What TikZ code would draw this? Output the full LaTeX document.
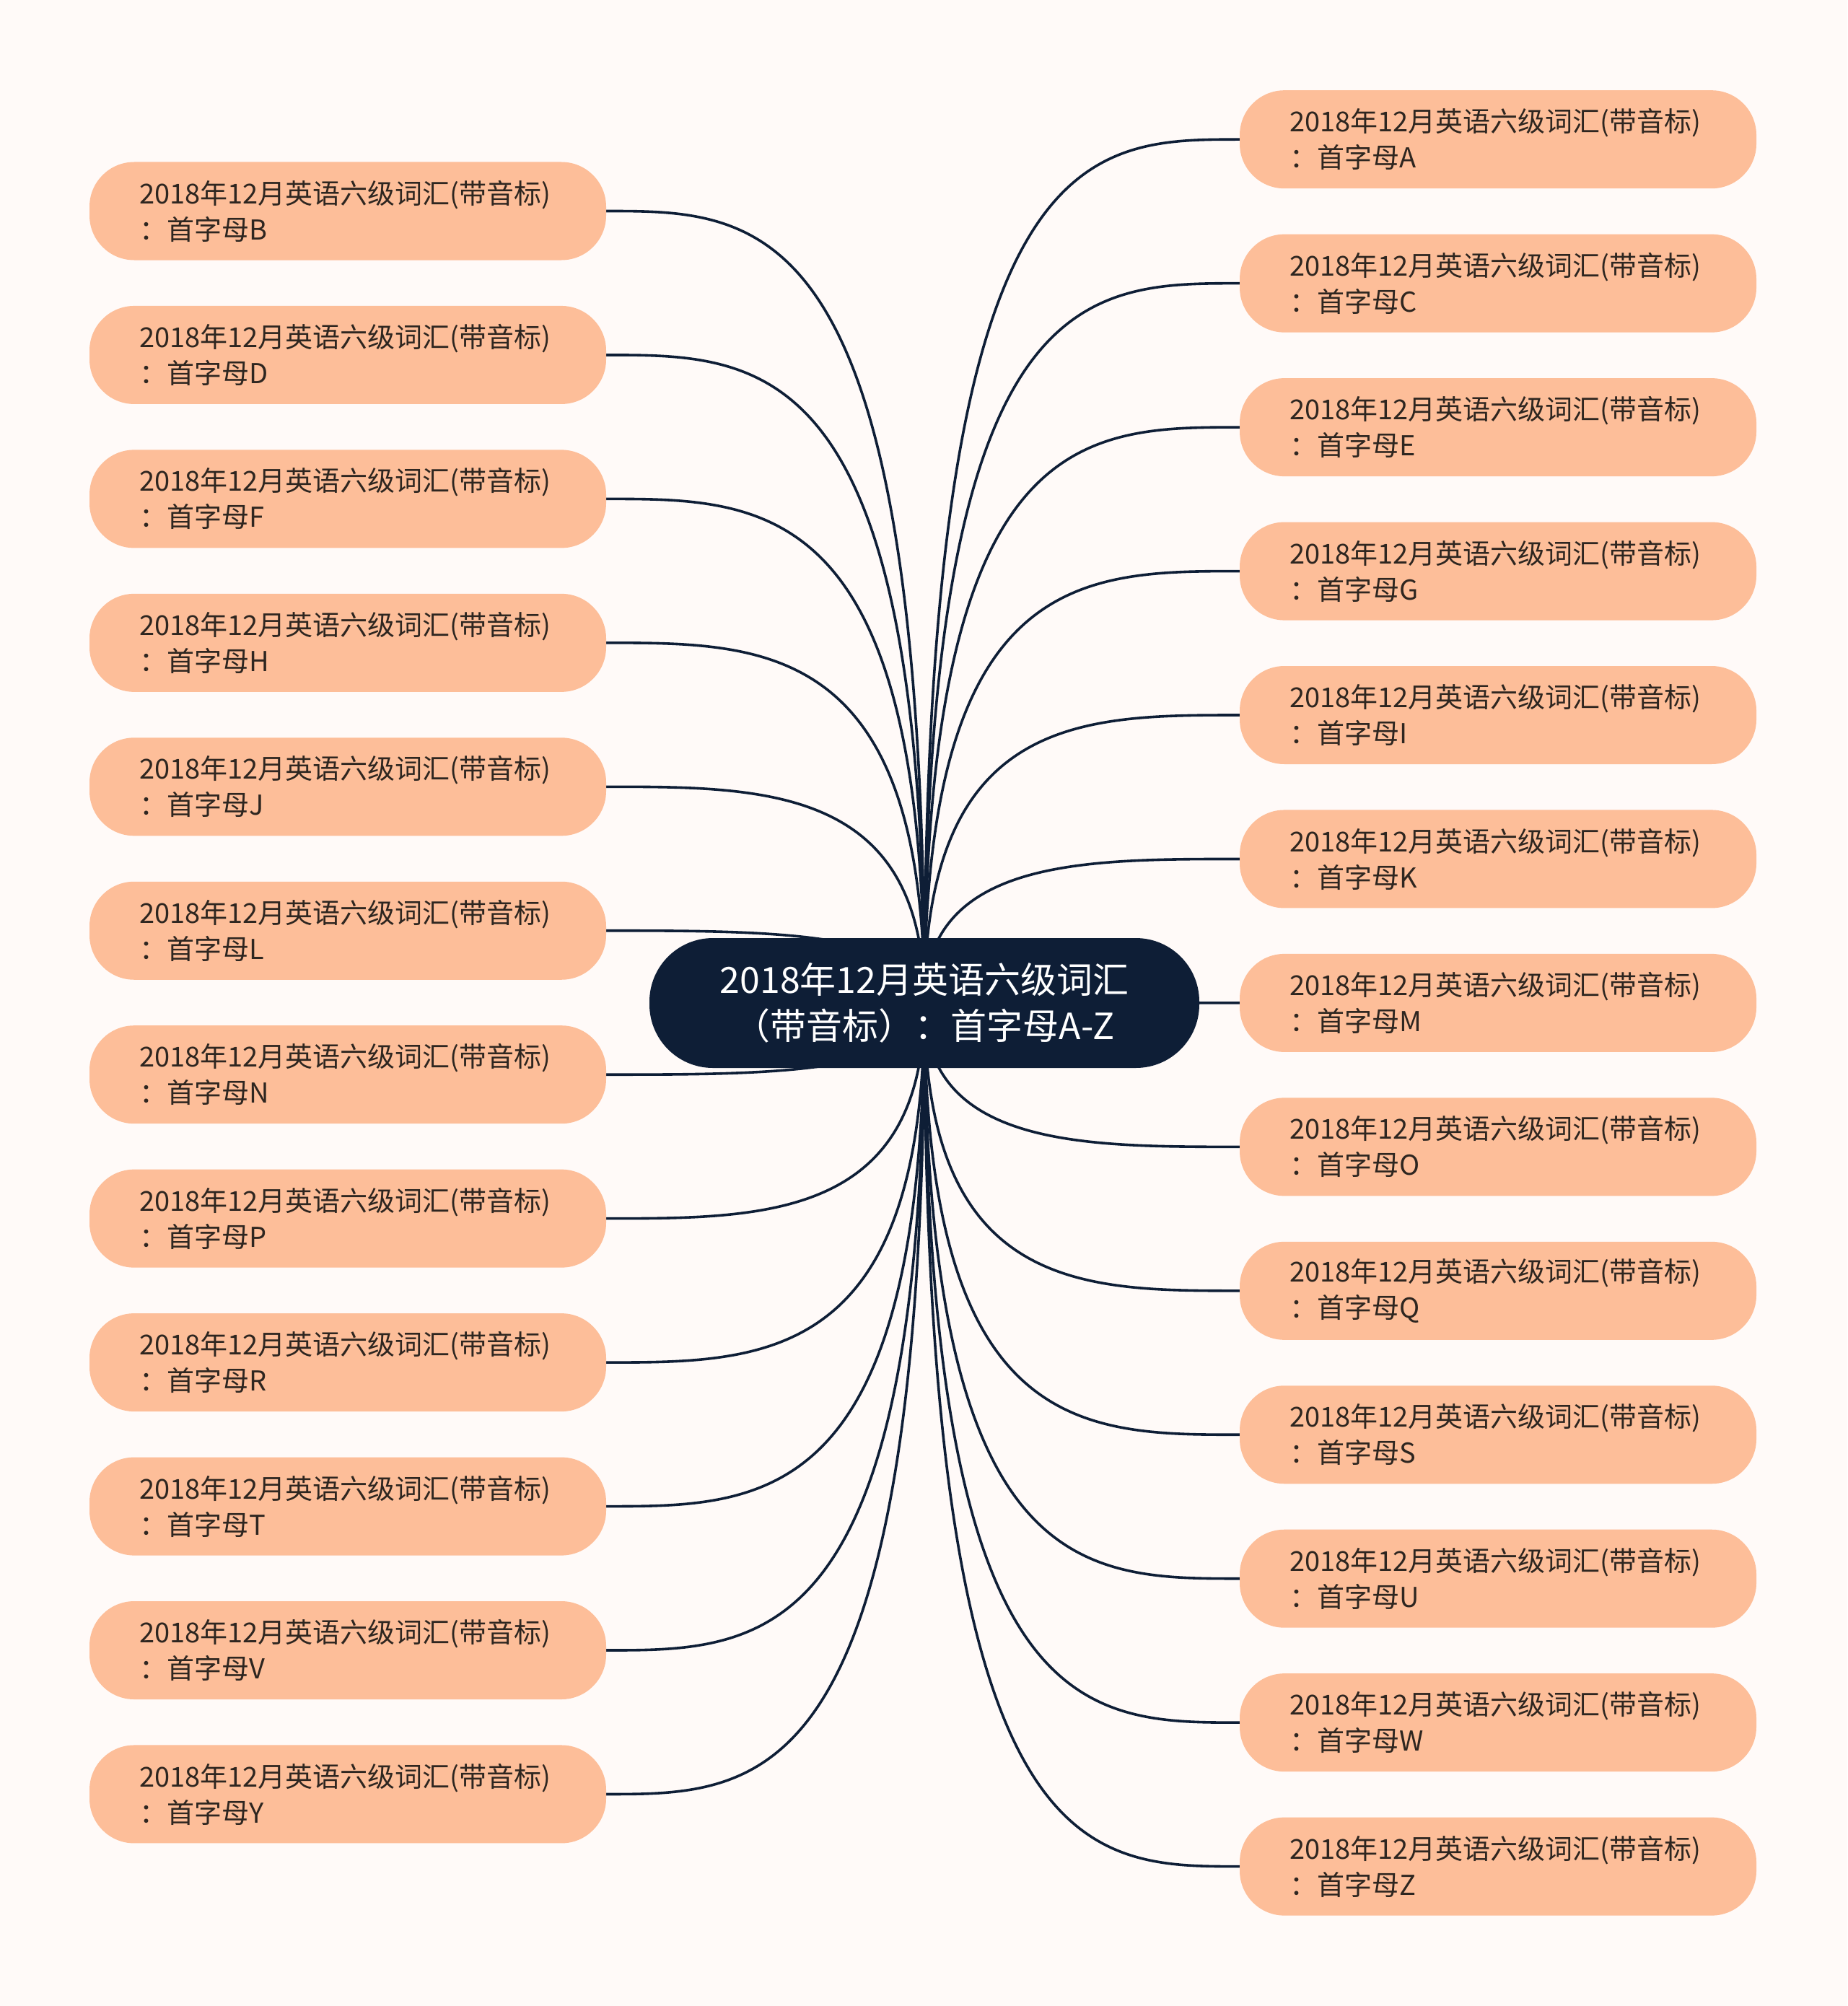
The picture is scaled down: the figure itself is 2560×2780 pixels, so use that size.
\documentclass[tikz,border=0pt]{standalone}
\usepackage{fontspec}
\setmainfont{Noto Sans CJK SC}
\usetikzlibrary{calc,backgrounds}
\definecolor{bgcol}{HTML}{FFFAF8}
\definecolor{peach}{HTML}{FDBE99}
\definecolor{navy}{HTML}{0E1E36}
\definecolor{leaftext}{HTML}{2E2620}
\begin{document}
\begin{tikzpicture}[x=1pt,y=-1pt,
  leaf/.style={fill=peach, rounded corners=62pt, minimum width=716pt, minimum height=136pt,
    text width=578pt, inner xsep=69pt, inner ysep=0pt, align=left,
    font=\fontsize{38}{50}\selectfont, text=leaftext},
  rootbox/.style={fill=navy, rounded corners=88pt, minimum width=762pt, minimum height=180pt,
    align=center, text=white, font=\fontsize{50}{64}\selectfont},
  edge/.style={draw=navy, line width=3.6pt}]
\useasboundingbox (0,0) rectangle (2560,2780);
\node[rootbox] (root) at (1281,1390) {2018年12月英语六级词汇\\（带音标）：首字母A-Z};
\foreach \l [count=\i from 0] in {A,C,E,G,I,K,M,O,Q,S,U,W,Z}{
  \node[leaf] (n\l) at (2076,{193.2+199.45*\i}) {2018年12月英语六级词汇(带音标)\\：首字母\l};
}
\foreach \l [count=\i from 0] in {B,D,F,H,J,L,N,P,R,T,V,Y}{
  \node[leaf] (n\l) at (482,{292.5+199.45*\i}) {2018年12月英语六级词汇(带音标)\\：首字母\l};
}
\begin{pgfonlayer}{background}
\fill[bgcol] (0,0) rectangle (2560,2780);
\foreach \l in {A,C,E,G,I,K,M,O,Q,S,U,W,Z}{
  \draw[edge] (root.center) .. controls (root.center |- n\l.west) and ($(root.center |- n\l.west)!0.5!(n\l.west)$) .. (n\l.west);
}
\foreach \l in {B,D,F,H,J,L,N,P,R,T,V,Y}{
  \draw[edge] (root.center) .. controls (root.center |- n\l.east) and ($(root.center |- n\l.east)!0.5!(n\l.east)$) .. (n\l.east);
}
\end{pgfonlayer}
\end{tikzpicture}
\end{document}
